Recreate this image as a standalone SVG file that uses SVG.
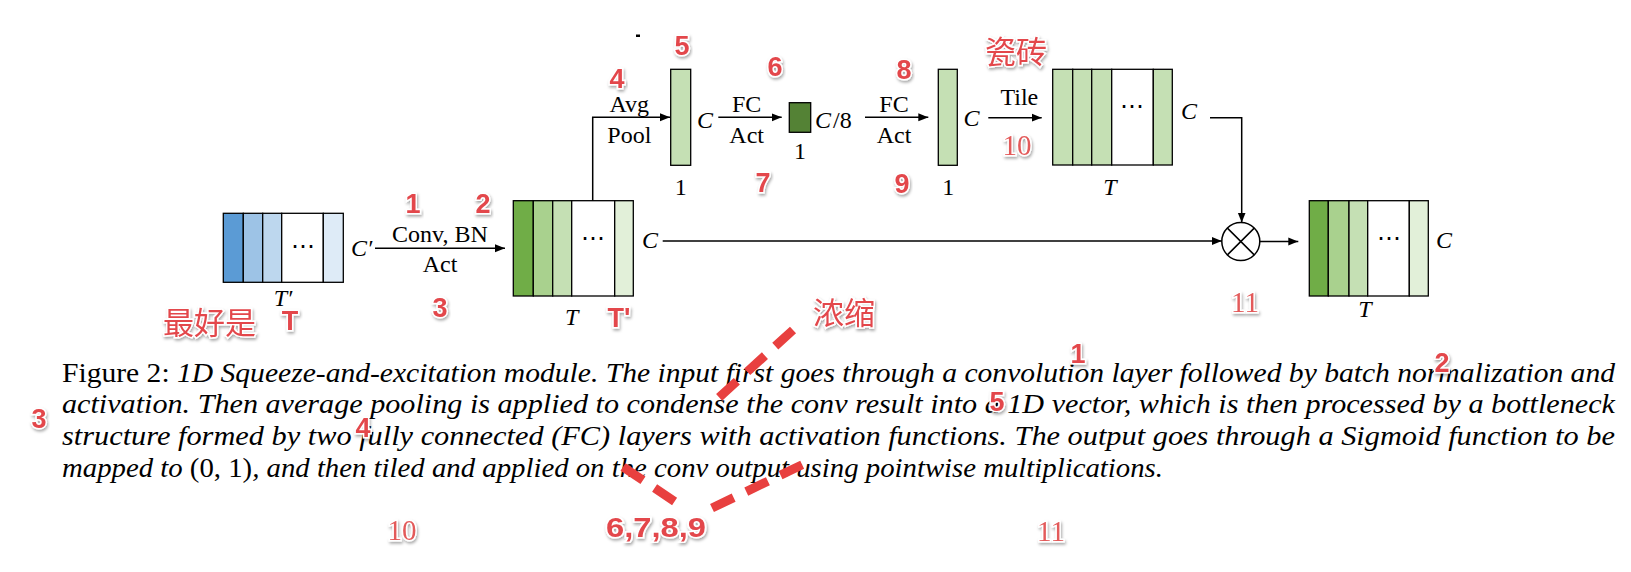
<svg xmlns="http://www.w3.org/2000/svg" width="1631" height="572" viewBox="0 0 1631 572">
<style>
.bx{stroke:#000;stroke-width:1.3}
.ln{fill:none;stroke:#000;stroke-width:1.5}
.lb{font-family:"Liberation Serif","Times New Roman",serif;font-size:24px;fill:#000}
.it{font-style:italic}
.cap{font-family:"Liberation Serif","Times New Roman",serif;font-size:28px;fill:#000}
.ann{font-family:"Liberation Sans",Arial,sans-serif;font-weight:bold;font-size:27px;fill:#e3474b;stroke:#fff;stroke-width:3;paint-order:stroke;filter:url(#sh);text-anchor:middle}
.anns{font-family:"Liberation Serif","Times New Roman",serif;font-size:29px;fill:#e35a5a;stroke:#fff;stroke-width:3;paint-order:stroke;filter:url(#sh);text-anchor:middle}
.cjk{font-family:"Noto Sans CJK SC",sans-serif;font-size:31px;fill:#e3474b;stroke:#fff;stroke-width:3;paint-order:stroke;filter:url(#sh)}
.dash{fill:none;stroke:#e8403f;stroke-width:9;stroke-dasharray:24 14}
</style>
<defs>
<marker id="ah" viewBox="0 0 10 10" refX="10" refY="5" markerWidth="10" markerHeight="10" markerUnits="userSpaceOnUse" orient="auto">
<path d="M0,1 L10,5 L0,9 z" fill="#000"/>
</marker>
<filter id="sh" x="-20%" y="-20%" width="140%" height="150%">
<feDropShadow dx="1" dy="2" stdDeviation="1.5" flood-color="#000" flood-opacity="0.35"/>
</filter>
</defs>
<rect width="1631" height="572" fill="#fff"/>

<g id="input">
<rect class="bx" x="223.3" y="213.3" width="20" height="69" fill="#5b9bd5"/>
<rect class="bx" x="243.3" y="213.3" width="19.4" height="69" fill="#9dc3e6"/>
<rect class="bx" x="262.7" y="213.3" width="19" height="69" fill="#bdd7ee"/>
<rect class="bx" x="281.7" y="213.3" width="41.6" height="69" fill="#fff"/>
<rect class="bx" x="323.3" y="213.3" width="20" height="69" fill="#deebf7"/>
<text class="lb" x="302.5" y="254" text-anchor="middle">⋯</text>
<text class="lb it" x="351" y="256">C′</text>
<text class="lb it" x="283" y="306" text-anchor="middle">T′</text>
</g>

<g id="conv">
<rect class="bx" x="513.3" y="200.7" width="20" height="95.3" fill="#70ad47"/>
<rect class="bx" x="533.3" y="200.7" width="19.4" height="95.3" fill="#a9d18e"/>
<rect class="bx" x="552.7" y="200.7" width="19" height="95.3" fill="#c5e0b4"/>
<rect class="bx" x="571.7" y="200.7" width="43" height="95.3" fill="#fff"/>
<rect class="bx" x="614.7" y="200.7" width="18.6" height="95.3" fill="#e2f0d9"/>
<text class="lb" x="593" y="246" text-anchor="middle">⋯</text>
<text class="lb it" x="642" y="248.3">C</text>
<text class="lb it" x="571.7" y="325" text-anchor="middle">T</text>
</g>

<g id="pool">
<rect class="bx" x="670.7" y="69.3" width="20" height="96" fill="#c5e0b4"/>
<text class="lb it" x="697" y="127.5">C</text>
<text class="lb" x="680.7" y="195" text-anchor="middle">1</text>
</g>

<g id="fc1">
<rect class="bx" x="789.3" y="102.7" width="21.4" height="29.6" fill="#548235"/>
<text class="lb it" x="815" y="127.5">C<tspan font-style="normal" dx="2">/8</tspan></text>
<text class="lb" x="800" y="159.3" text-anchor="middle">1</text>
</g>

<g id="fc2">
<rect class="bx" x="938.3" y="69.3" width="19" height="96" fill="#c5e0b4"/>
<text class="lb it" x="963.5" y="126">C</text>
<text class="lb" x="948.3" y="195" text-anchor="middle">1</text>
</g>

<g id="tile">
<rect class="bx" x="1052.7" y="69.3" width="20" height="95.7" fill="#c5e0b4"/>
<rect class="bx" x="1072.7" y="69.3" width="19" height="95.7" fill="#c5e0b4"/>
<rect class="bx" x="1091.7" y="69.3" width="20" height="95.7" fill="#c5e0b4"/>
<rect class="bx" x="1111.7" y="69.3" width="41.6" height="95.7" fill="#fff"/>
<rect class="bx" x="1153.3" y="69.3" width="19" height="95.7" fill="#c5e0b4"/>
<text class="lb" x="1132" y="114" text-anchor="middle">⋯</text>
<text class="lb it" x="1181" y="118.5">C</text>
<text class="lb it" x="1110" y="195" text-anchor="middle">T</text>
</g>

<g id="mult">
<circle cx="1240.8" cy="241.5" r="19" fill="#fff" stroke="#000" stroke-width="1.5"/>
<path class="ln" d="M1227.4,228.1 L1254.2,254.9 M1254.2,228.1 L1227.4,254.9"/>
</g>

<g id="output">
<rect class="bx" x="1309.3" y="200.7" width="19" height="95.3" fill="#70ad47"/>
<rect class="bx" x="1328.3" y="200.7" width="20.7" height="95.3" fill="#a9d18e"/>
<rect class="bx" x="1349" y="200.7" width="18.7" height="95.3" fill="#c5e0b4"/>
<rect class="bx" x="1367.7" y="200.7" width="41.6" height="95.3" fill="#fff"/>
<rect class="bx" x="1409.3" y="200.7" width="19" height="95.3" fill="#e2f0d9"/>
<text class="lb" x="1388.5" y="246" text-anchor="middle">⋯</text>
<text class="lb it" x="1436" y="248.3">C</text>
<text class="lb it" x="1365" y="316.7" text-anchor="middle">T</text>
</g>

<g id="connectors">
<path class="ln" d="M375,248.3 H505" marker-end="url(#ah)"/>
<path class="ln" d="M592.7,200.7 V117.3 H670" marker-end="url(#ah)"/>
<path class="ln" d="M718.3,117.3 H781.7" marker-end="url(#ah)"/>
<path class="ln" d="M865,117.3 H928.3" marker-end="url(#ah)"/>
<path class="ln" d="M988.3,117.7 H1041.7" marker-end="url(#ah)"/>
<path class="ln" d="M1210,117.7 H1241.7 V222.5" marker-end="url(#ah)"/>
<path class="ln" d="M662.7,241 H1221.7" marker-end="url(#ah)"/>
<path class="ln" d="M1260,241.5 H1298.3" marker-end="url(#ah)"/>
<text class="lb" x="440" y="241.7" text-anchor="middle">Conv, BN</text>
<text class="lb" x="440" y="271.7" text-anchor="middle">Act</text>
<text class="lb" x="629.3" y="111.7" text-anchor="middle">Avg</text>
<text class="lb" x="629.3" y="142.7" text-anchor="middle">Pool</text>
<text class="lb" x="746.7" y="111.7" text-anchor="middle">FC</text>
<text class="lb" x="746.7" y="142.7" text-anchor="middle">Act</text>
<text class="lb" x="894" y="111.7" text-anchor="middle">FC</text>
<text class="lb" x="894" y="142.7" text-anchor="middle">Act</text>
<text class="lb" x="1019.3" y="105" text-anchor="middle">Tile</text>
</g>
<rect x="636" y="34.5" width="4" height="2.5" fill="#000"/>

<g id="caption">
<text class="cap" x="62" y="382.3" textLength="1553" lengthAdjust="spacingAndGlyphs">Figure 2: <tspan class="it">1D Squeeze-and-excitation module. The input first goes through a convolution layer followed by batch normalization and</tspan></text>
<text class="cap it" x="62" y="413.3" textLength="1553" lengthAdjust="spacingAndGlyphs">activation.  Then average pooling is applied to condense the conv result into a 1D vector, which is then processed by a bottleneck</text>
<text class="cap it" x="62" y="445" textLength="1553" lengthAdjust="spacingAndGlyphs">structure formed by two fully connected (FC) layers with activation functions.  The output goes through a Sigmoid function to be</text>
<text class="cap it" x="62" y="476.7" textLength="1101" lengthAdjust="spacingAndGlyphs">mapped to <tspan font-style="normal">(0, 1)</tspan>, and then tiled and applied on the conv output using pointwise multiplications.</text>
</g>

<g id="annotations">
<path class="dash" d="M793,330 L713,403"/>
<path class="dash" d="M623,467 L680,505"/>
<path class="dash" d="M712,508 L808,462"/>
<text class="ann" x="413" y="213">1</text>
<text class="ann" x="483" y="213">2</text>
<text class="ann" x="440" y="317">3</text>
<text class="cjk" x="163" y="334">最好是</text>
<text class="ann" x="290" y="330" font-size="24">T</text>
<text class="ann" x="619" y="327" font-size="24">T'</text>
<text class="ann" x="617" y="88">4</text>
<text class="ann" x="682" y="55">5</text>
<text class="ann" x="775" y="76">6</text>
<text class="ann" x="763" y="192">7</text>
<text class="ann" x="904" y="79">8</text>
<text class="ann" x="902" y="193">9</text>
<text class="cjk" x="985" y="63">瓷砖</text>
<text class="anns" x="1017" y="155">10</text>
<text class="anns" x="1245" y="312">11</text>
<text class="cjk" x="813" y="324">浓缩</text>
<text class="ann" x="1078" y="363">1</text>
<text class="ann" x="1442" y="372">2</text>
<text class="ann" x="39" y="428" font-size="25">3</text>
<text class="ann" x="363" y="437" font-size="23">4</text>
<text class="ann" x="997" y="411" font-size="23">5</text>
<text class="anns" x="402" y="540" font-size="30">10</text>
<text class="ann" x="656" y="537" font-size="28" textLength="100" lengthAdjust="spacingAndGlyphs">6,7,8,9</text>
<text class="anns" x="1051" y="541" font-size="30">11</text>
</g>
</svg>
